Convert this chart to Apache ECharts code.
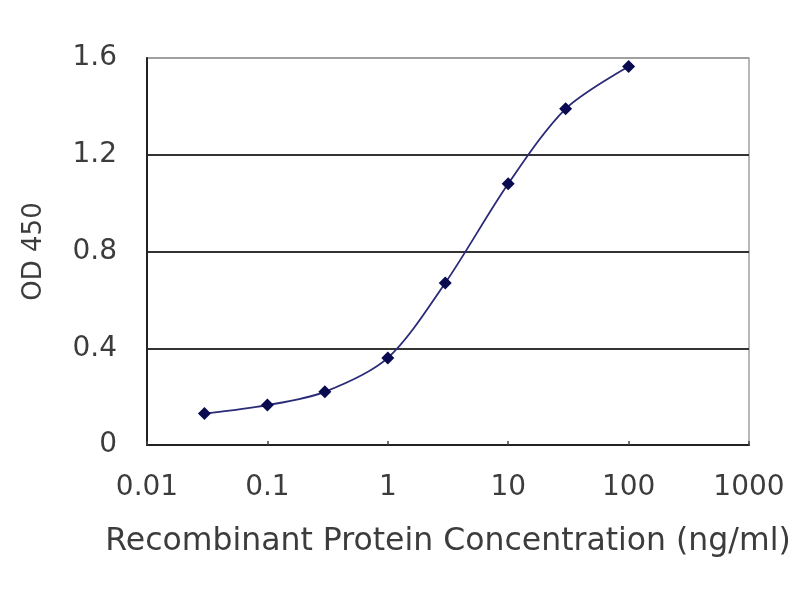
<!DOCTYPE html>
<html><head><meta charset="utf-8">
<script src="https://cdn.jsdelivr.net/npm/echarts@6/dist/echarts.min.js"></script>
<style>html,body{margin:0;padding:0;background:#fff}#c{width:800px;height:600px}</style>
</head><body><div id="c"></div>
<script>
const concentrations = [0.03, 0.1, 0.3, 1, 3, 10, 30, 100];
const od450 = [0.13, 0.165, 0.22, 0.36, 0.67, 1.08, 1.39, 1.565];
const xTickLabels = {0.01:'0.01',0.1:'0.1',1:'1',10:'10',100:'100',1000:'1000'};
const yTickLabels = {0:'0',0.4:'0.4',0.8:'0.8',1.2:'1.2',1.6:'1.6'};
const chart = echarts.init(document.getElementById('c'));
const font = 'DejaVu Sans, Verdana, sans-serif';
chart.setOption({
  backgroundColor:'#fff',
  animation:false,
  grid:{left:147,right:51,top:58,bottom:155,show:true,borderColor:'#a0a0a0',borderWidth:1.5},
  xAxis:{type:'log',logBase:10,min:0.01,max:1000,
    name:'Recombinant Protein Concentration (ng/ml)',nameLocation:'middle',nameGap:81,
    nameTextStyle:{fontFamily:font,fontSize:31.5,color:'#3c3c3c'},
    axisLine:{show:true,lineStyle:{color:'#222',width:2}},
    axisTick:{show:true,inside:true,length:4,lineStyle:{color:'#444',width:1.5}},
    minorTick:{show:false},
    splitLine:{show:false},
    axisLabel:{fontFamily:font,fontSize:28,color:'#3c3c3c',margin:29,
      formatter:v=>{const k=Object.keys(xTickLabels).find(t=>Math.abs(Math.log10(+t)-Math.log10(v))<1e-6);return k?xTickLabels[k]:'';}}
  },
  yAxis:{type:'value',min:0,max:1.6,interval:0.4,
    name:'OD 450',nameLocation:'middle',nameGap:100,nameRotate:90,
    nameTextStyle:{fontFamily:font,fontSize:26,color:'#3c3c3c'},
    axisLine:{show:true,lineStyle:{color:'#222',width:2}},
    axisTick:{show:false},
    splitLine:{show:true,lineStyle:{color:['#333','#333','#333','#333','#a0a0a0'],width:2}},
    axisLabel:{fontFamily:font,fontSize:28,color:'#3c3c3c',margin:30,
      formatter:v=>{const k=Object.keys(yTickLabels).find(t=>Math.abs(+t-v)<1e-6);return k!==undefined?yTickLabels[k]:'';}}
  },
  series:[{type:'line',data:concentrations.map((c,i)=>[c,od450[i]]),
    smooth:0.3,symbol:'diamond',symbolSize:13,
    lineStyle:{color:'#2a2a78',width:1.8},
    itemStyle:{color:'#0a0a50'}}]
});
</script></body></html>
